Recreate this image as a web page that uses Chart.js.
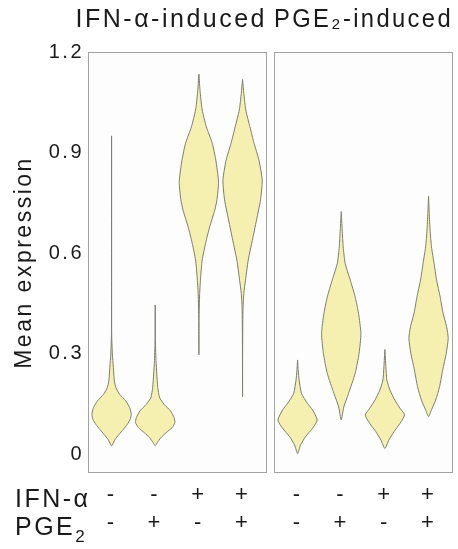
<!DOCTYPE html>
<html><head><meta charset="utf-8">
<script src="https://cdn.jsdelivr.net/npm/chart.js@4.4.1/dist/chart.umd.min.js"></script>
<style>
html,body{margin:0;padding:0;background:#fff;}
#wrap{position:relative;width:458px;height:549px;overflow:hidden;}
canvas{position:absolute;top:0;}
#cA{left:0;}
#cB{left:272px;}
.rowlab{position:absolute;left:15px;font:25px 'Liberation Sans',Arial,sans-serif;line-height:25px;letter-spacing:2.5px;color:#1a1a1a;white-space:nowrap;}
.rowlab sub{font-size:17px;vertical-align:-7px;line-height:0;}
</style></head>
<body><div id="wrap">
<canvas id="cA" width="272" height="549"></canvas>
<canvas id="cB" width="186" height="549"></canvas>
<div class="rowlab" style="top:486px">IFN-α</div>
<div class="rowlab" style="top:514px">PGE<sub>2</sub></div>
</div>
<script>
// ---- data ----
const treatIFN = ['-', '-', '+', '+'];
const treatPGE = ['-', '+', '-', '+'];
const panelTitles = ['IFN-α-induced', 'PGE₂-induced'];
const yTickValues = [0, 0.3, 0.6, 0.9, 1.2];
const yTickLabels = ['0', '0.3', '0.6', '0.9', '1.2'];
const yAxisTitle = 'Mean expression';

// IFN-α-induced genes: mean expression (y) and relative density (d)
const ifnCtrlY = [0.95, 0.60, 0.36, 0.30, 0.26, 0.22, 0.20, 0.18, 0.16, 0.14, 0.12, 0.105, 0.09, 0.075, 0.06, 0.045, 0.026];
const ifnCtrlD = [0, 0.003, 0.005, 0.04, 0.09, 0.14, 0.22, 0.40, 0.72, 0.92, 1.0, 0.95, 0.80, 0.60, 0.38, 0.18, 0];
const ifnPgeY  = [0.446, 0.35, 0.28, 0.24, 0.20, 0.17, 0.15, 0.13, 0.11, 0.095, 0.08, 0.065, 0.05, 0.035, 0.026];
const ifnPgeD  = [0, 0.003, 0.04, 0.08, 0.13, 0.22, 0.45, 0.78, 0.96, 1.0, 0.85, 0.55, 0.28, 0.10, 0];
const ifnIfnY  = [1.134, 1.077, 1.027, 0.977, 0.928, 0.878, 0.813, 0.76, 0.729, 0.679, 0.630, 0.580, 0.530, 0.480, 0.40, 0.297];
const ifnIfnD  = [0, 0.07, 0.17, 0.38, 0.68, 0.86, 1.0, 0.92, 0.81, 0.55, 0.34, 0.17, 0.09, 0.04, 0.003, 0];
const ifnBothY = [1.118, 1.077, 1.027, 0.977, 0.928, 0.878, 0.818, 0.759, 0.699, 0.639, 0.580, 0.520, 0.480, 0.43, 0.30, 0.172];
const ifnBothD = [0, 0.065, 0.165, 0.375, 0.585, 0.835, 1.0, 0.915, 0.71, 0.5, 0.29, 0.15, 0.065, 0.02, 0.003, 0];

// PGE2-induced genes
const pgeCtrlY = [0.282, 0.25, 0.222, 0.182, 0.153, 0.133, 0.103, 0.078, 0.053, 0.028, 0.003];
const pgeCtrlD = [0, 0.035, 0.08, 0.2, 0.5, 0.76, 1.0, 0.76, 0.4, 0.15, 0];
const pgePgeY  = [0.724, 0.669, 0.619, 0.570, 0.520, 0.470, 0.421, 0.361, 0.302, 0.242, 0.182, 0.142, 0.103];
const pgePgeD  = [0, 0.05, 0.1, 0.2, 0.46, 0.71, 0.88, 1.0, 0.91, 0.71, 0.37, 0.13, 0];
const pgeIfnY  = [0.313, 0.262, 0.222, 0.192, 0.162, 0.138, 0.118, 0.093, 0.068, 0.043, 0.018];
const pgeIfnD  = [0, 0.05, 0.1, 0.26, 0.51, 0.77, 1.0, 0.77, 0.46, 0.2, 0];
const pgeBothY = [0.770, 0.719, 0.669, 0.619, 0.570, 0.520, 0.470, 0.421, 0.381, 0.346, 0.302, 0.252, 0.202, 0.162, 0.133, 0.113];
const pgeBothD = [0, 0.035, 0.08, 0.15, 0.28, 0.41, 0.59, 0.74, 0.92, 1.0, 0.9, 0.72, 0.56, 0.36, 0.15, 0];

// ---- styling ----
const TEXT = '#1a1a1a';
const FILL = '#f5f0b0';
const EDGE = '#7d7d70';
const PANEL_BG = '#fdfdfd';
const PANEL_EDGE = '#a3a3a3';
const HALF_WIDTH = 0.45;
const FONT = "'Liberation Sans', Arial, sans-serif";
Chart.defaults.font.family = FONT;
Chart.defaults.color = TEXT;

function violinDataset(center, ys, ds) {
  const pts = [];
  for (let i = 0; i < ys.length; i++) pts.push({x: center - HALF_WIDTH * ds[i], y: ys[i]});
  for (let i = ys.length - 2; i >= 0; i--) pts.push({x: center + HALF_WIDTH * ds[i], y: ys[i]});
  return {data: pts, showLine: true, fill: 'shape', backgroundColor: FILL, borderColor: EDGE,
          borderWidth: 1, pointRadius: 0, pointHoverRadius: 0, tension: 0.2};
}

const panelPlugin = {
  id: 'panel',
  beforeUpdate(chart) { chart.ctx.letterSpacing = '2.5px'; },
  beforeLayout(chart) { chart.ctx.letterSpacing = '2.5px'; },
  beforeDraw(chart) {
    const {ctx, chartArea: a} = chart;
    ctx.letterSpacing = '2.5px';
    ctx.save();
    ctx.fillStyle = PANEL_BG;
    ctx.fillRect(a.left, a.top, a.width, a.height);
    ctx.restore();
  },
  afterDraw(chart) {
    const {ctx, chartArea: a} = chart;
    ctx.save();
    ctx.strokeStyle = PANEL_EDGE;
    ctx.lineWidth = 1;
    ctx.strokeRect(Math.round(a.left) + 0.5, Math.round(a.top) + 0.5, Math.round(a.width) - 1, Math.round(a.height) - 1);
    ctx.restore();
  }
};

function makeChart(id, violins, title, titleAlign, showY, padLeft) {
  return new Chart(document.getElementById(id), {
    type: 'scatter',
    data: {datasets: violins.map((v, i) => violinDataset(i + 1, v[0], v[1]))},
    options: {
      responsive: false, animation: false, devicePixelRatio: 1,
      layout: {padding: {left: padLeft, right: 5, top: 0, bottom: 0}},
      plugins: {
        legend: {display: false}, tooltip: {enabled: false},
        title: {display: true, text: title, align: titleAlign, color: TEXT,
                font: {size: 25, weight: 'normal', lineHeight: 1.2}, padding: {top: 5, bottom: 17}}
      },
      scales: {
        x: {
          type: 'linear', min: 0.46, max: 4.56,
          grid: {display: false, drawTicks: false}, border: {display: false},
          afterBuildTicks: s => { s.ticks = treatIFN.map((_, i) => ({value: i + 1})); },
          afterFit: s => { s.height = 76; },
          ticks: {autoSkip: false, maxRotation: 0, padding: 8, color: TEXT,
                  font: {size: 22, lineHeight: 28 / 22},
                  callback: v => { const i = Math.round(v) - 1; return [treatIFN[i], treatPGE[i]]; }}
        },
        y: {
          display: showY, min: -0.055, max: 1.2,
          grid: {display: false, drawTicks: false}, border: {display: false},
          afterBuildTicks: s => { s.ticks = yTickValues.map(v => ({value: v})); },
          afterFit: s => { s.width = showY ? 88 : 0; },
          ticks: {padding: 4, color: TEXT, font: {size: 20},
                  callback: v => { const i = yTickValues.findIndex(t => Math.abs(t - v) < 1e-6); return yTickLabels[i]; }},
          title: {display: true, text: yAxisTitle, color: TEXT, font: {size: 23, lineHeight: 1.2}, padding: {top: 11, bottom: 0}}
        }
      }
    },
    plugins: [panelPlugin]
  });
}

makeChart('cA', [[ifnCtrlY, ifnCtrlD], [ifnPgeY, ifnPgeD], [ifnIfnY, ifnIfnD], [ifnBothY, ifnBothD]],
          panelTitles[0], 'end', true, 0);
makeChart('cB', [[pgeCtrlY, pgeCtrlD], [pgePgeY, pgePgeD], [pgeIfnY, pgeIfnD], [pgeBothY, pgeBothD]],
          panelTitles[1], 'center', false, 2);
</script>
</body></html>
